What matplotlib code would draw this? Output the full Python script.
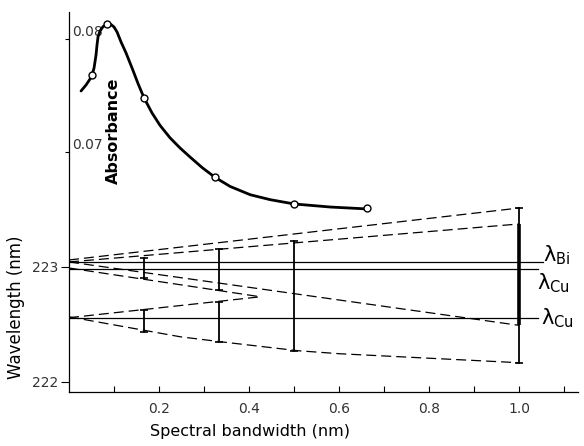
import numpy as np
import matplotlib
matplotlib.use("Agg")
import matplotlib.pyplot as plt

# ---- absorbance vs spectral bandwidth (upper curve) ----
abs_curve_x = [0.0267, 0.0378, 0.0467, 0.0511, 0.0556, 0.0600, 0.0622, 0.0644,
               0.0689, 0.0756, 0.0844, 0.0933, 0.1000, 0.1067, 0.1156, 0.1267,
               0.1400, 0.1533, 0.1667, 0.1844, 0.2022, 0.2244, 0.2467, 0.2689,
               0.2956, 0.3244, 0.3578, 0.4022, 0.4467, 0.5000, 0.5800, 0.6622]
abs_curve_y = [0.07540, 0.07593, 0.07646, 0.07681, 0.07743, 0.07858, 0.07947, 0.08018,
               0.08071, 0.08110, 0.08130, 0.08128, 0.08106, 0.08062, 0.07973, 0.07876,
               0.07743, 0.07605, 0.07478, 0.07345, 0.07235, 0.07125, 0.07035, 0.06955,
               0.06862, 0.06775, 0.06695, 0.06622, 0.06578, 0.06540, 0.06513, 0.06496]
abs_pts_x = [0.051, 0.084, 0.167, 0.324, 0.500, 0.662]
abs_pts_y = [0.0768, 0.0813, 0.0748, 0.0678, 0.0654, 0.0650]
abs_ticks = [0.07, 0.08]

# ---- wavelength construction (lower part) ----
lines_h = {              # name: (wavelength, x end)
    "Bi": (223.043, 1.053),
    "Cu1": (222.983, 1.042),
    "Cu2": (222.557, 1.042),
}
dashed = [
    ([0, 1.0], [223.06, 223.513]),
    ([0, 1.0], [223.043, 223.374]),
    ([0, 1.0], [223.043, 222.49]),
    ([0, 0.424], [222.99, 222.74]),
    ([0, 0.424], [222.557, 222.739]),
    ([0, 0.247, 0.336, 0.507, 0.602, 1.0],
     [222.565, 222.391, 222.348, 222.270, 222.243, 222.165]),
]
bar_x = [1/6, 1/6, 1/3, 1/3, 0.5, 1.0]
bar_lo = [222.904, 222.435, 222.800, 222.348, 222.270, 222.165]
bar_hi = [223.078, 222.626, 223.157, 222.696, 223.226, 223.513]
thick_bar = (1.0, 222.496, 223.374)

fig = plt.figure(figsize=(5.84, 4.46), dpi=100)
ax = fig.add_axes([69/584, 54/446, 509/584, 380/446])
ax.set_xlim(0, 1.13)
ax.set_ylim(221.91, 225.22)
for s in ("top", "right"):
    ax.spines[s].set_visible(False)
ax.spines["left"].set_linewidth(0.9)
ax.spines["bottom"].set_linewidth(0.9)

ax.set_xticks([0.2, 0.4, 0.6, 0.8, 1.0])
ax.set_xticklabels(["0.2", "0.4", "0.6", "0.8", "1.0"])
ax.set_xticks(np.arange(0.1, 1.15, 0.2), minor=True)
ax.tick_params(axis="x", which="both", direction="in", length=4, width=0.8,
               pad=7, labelsize=10, labelcolor="#333333")
ax.set_yticks([222, 223])
ax.tick_params(axis="y", direction="out", length=6, width=0.8, pad=2,
               labelsize=10, labelcolor="#333333")

for (xs, ys) in dashed:
    ax.plot(xs, ys, color="black", lw=0.9, dashes=(8, 4))
for name, (w, xe) in lines_h.items():
    ax.plot([0, xe], [w, w], color="black", lw=0.9)
for x, lo, hi in zip(bar_x, bar_lo, bar_hi):
    ax.plot([x, x], [lo, hi], color="black", lw=1.3, marker="_", ms=6, mew=1.2)
ax.plot([thick_bar[0]] * 2, thick_bar[1:], color="black", lw=2.6, solid_capstyle="butt")

ax.text(1.053, 223.104, r"λ$_{\rm Bi}$", fontsize=15, va="center", ha="left")
ax.text(1.038, 222.861, r"λ$_{\rm Cu}$", fontsize=15, va="center", ha="left")
ax.text(1.047, 222.557, r"λ$_{\rm Cu}$", fontsize=15, va="center", ha="left")

ax.set_xlabel("Spectral bandwidth (nm)", fontsize=11.5)
ax.xaxis.set_label_coords(0.356, -0.085)
ax.set_ylabel("Wavelength (nm)", fontsize=12)
ax.yaxis.set_label_coords(-0.086, 0.224)

# absorbance scale shares the left spine
ax2 = ax.twinx()
ax2.set_ylim(0.04876, 0.08239)
for s in ax2.spines.values():
    s.set_visible(False)
ax2.yaxis.set_ticks_position("left")
ax2.set_yticks(abs_ticks)
ax2.set_yticklabels(["0.07", "0.08"])
ax2.tick_params(axis="y", direction="out", length=3, width=0.8, pad=-5.5,
                labelsize=10, labelcolor="#333333")
for lbl in ax2.get_yticklabels():
    lbl.set_horizontalalignment("left")
    lbl.set_verticalalignment("bottom")

ax2.plot(abs_curve_x, abs_curve_y, color="black", lw=2.0, solid_capstyle="round",
         solid_joinstyle="round")
ax2.plot(abs_pts_x, abs_pts_y, "o", ms=5, mfc="white", mec="black", mew=1.0)
ax2.text(0.098, 0.0719, "Absorbance", rotation=90, fontsize=11.5, fontweight="bold",
         ha="center", va="center")

fig.savefig("out.png", dpi=100)
